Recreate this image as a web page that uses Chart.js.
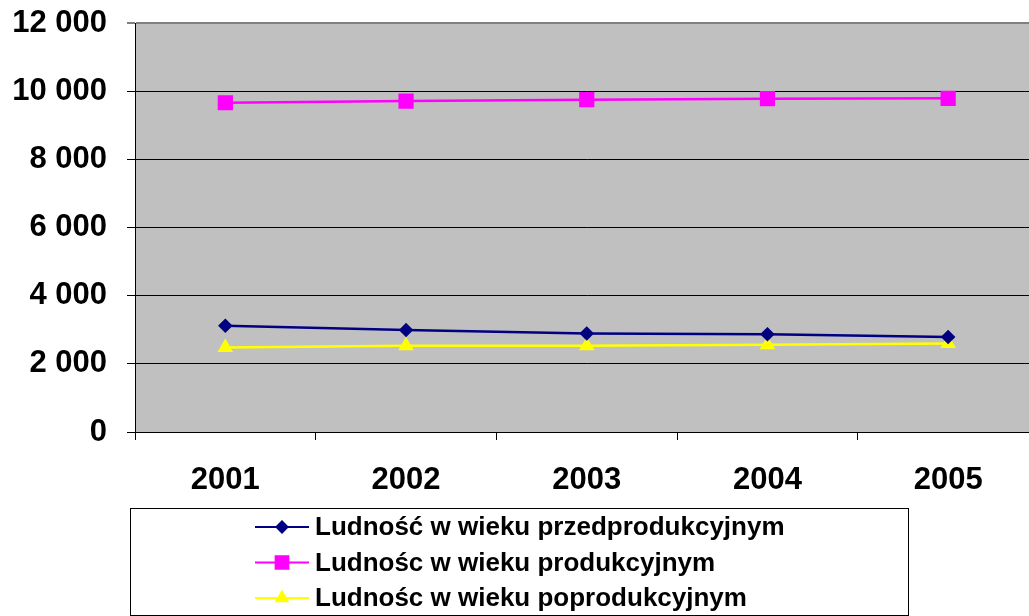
<!DOCTYPE html>
<html>
<head>
<meta charset="utf-8">
<script src="https://cdn.jsdelivr.net/npm/chart.js@4/dist/chart.umd.min.js"></script>
<style>
    html, body { margin: 0; padding: 0; background: #fff; overflow: hidden; }
    #wrap { width: 1050px; height: 616px; }
</style>
</head>
<body>
<div id="wrap"><canvas id="popChart" width="1050" height="616"></canvas></div>
<script>
const years = ["2001", "2002", "2003", "2004", "2005"];
const przedprodukcyjny = [3120, 2990, 2890, 2870, 2790];
const produkcyjny = [9660, 9710, 9750, 9780, 9790];
const poprodukcyjny = [2480, 2530, 2530, 2560, 2600];
const yTicks = [0, 2000, 4000, 6000, 8000, 10000, 12000];

const labelFont = "'Liberation Sans', Arial, sans-serif";

function formatThousands(v) {
    return String(v).replace(/\B(?=(\d{3})+(?!\d))/g, " ");
}

// gray plot area
const plotBackground = {
    id: "plotBackground",
    beforeDraw(chart) {
        const { ctx, chartArea } = chart;
        ctx.save();
        ctx.fillStyle = "#C0C0C0";
        ctx.fillRect(chartArea.left, chartArea.top, chartArea.right - chartArea.left, chartArea.bottom - chartArea.top);
        ctx.restore();
    }
};

// boxed legend below the axis, one series per row
const boxLegend = {
    id: "boxLegend",
    afterDraw(chart) {
        const ctx = chart.ctx;
        const box = { left: 130.5, top: 508.5, right: 908.5, bottom: 615.5 };
        ctx.save();
        ctx.strokeStyle = "#000";
        ctx.lineWidth = 1;
        ctx.strokeRect(box.left, box.top, box.right - box.left, box.bottom - box.top);

        chart.data.datasets.forEach((ds, i) => {
            const y = 527 + i * 35.5;
            ctx.strokeStyle = ds.borderColor;
            ctx.lineWidth = 2;
            ctx.beginPath();
            ctx.moveTo(255, y);
            ctx.lineTo(309, y);
            ctx.stroke();
            ctx.fillStyle = ds.pointBackgroundColor;
            ctx.strokeStyle = ds.pointBorderColor;
            Chart.helpers.drawPoint(ctx, {
                pointStyle: ds.pointStyle,
                radius: ds.pointRadius,
                rotation: 0,
                borderWidth: 1
            }, 282, y);
            ctx.fillStyle = "#000";
            ctx.font = "bold 26px " + labelFont;
            ctx.textAlign = "left";
            ctx.textBaseline = "middle";
            ctx.fillText(ds.label, 315, y + 1);
        });
        ctx.restore();
    }
};

const ctx = document.getElementById("popChart").getContext("2d");

new Chart(ctx, {
    type: "line",
    data: {
        labels: years,
        datasets: [{
            label: "Ludność w wieku przedprodukcyjnym",
            data: przedprodukcyjny,
            borderColor: "#000080",
            borderWidth: 2.5,
            pointStyle: "rectRot",
            pointRadius: 5.5,
            pointBackgroundColor: "#000080",
            pointBorderColor: "#000080",
            tension: 0
        }, {
            label: "Ludnośc w wieku produkcyjnym",
            data: produkcyjny,
            borderColor: "#FF00FF",
            borderWidth: 2.5,
            pointStyle: "rect",
            pointRadius: 9,
            pointBackgroundColor: "#FF00FF",
            pointBorderColor: "#FF00FF",
            tension: 0
        }, {
            label: "Ludnośc w wieku poprodukcyjnym",
            data: poprodukcyjny,
            borderColor: "#FFFF00",
            borderWidth: 2.5,
            pointStyle: "triangle",
            pointRadius: 6.5,
            pointBackgroundColor: "#FFFF00",
            pointBorderColor: "#FFFF00",
            tension: 0
        }]
    },
    options: {
        responsive: false,
        animation: false,
        layout: {
            padding: { top: 23, left: 0, right: 2, bottom: 0 }
        },
        plugins: {
            legend: { display: false },
            tooltip: { enabled: false }
        },
        scales: {
            x: {
                offset: true,
                afterFit: (scale) => {
                    scale.height = 184;
                    scale.paddingLeft = 0;
                    scale.paddingRight = 0;
                },
                grid: {
                    offset: true,
                    drawOnChartArea: false,
                    color: "#000",
                    tickLength: 8
                },
                border: { color: "#000", width: 1 },
                ticks: {
                    color: "#000",
                    padding: 22,
                    font: { family: labelFont, size: 31, weight: "bold" }
                }
            },
            y: {
                min: 0,
                max: 12000,
                afterFit: (scale) => {
                    scale.width = 135;
                    scale.paddingTop = 0;
                    scale.paddingBottom = 0;
                },
                afterBuildTicks: (scale) => {
                    scale.ticks = yTicks.map(v => ({ value: v }));
                },
                grid: {
                    color: (c) => c.tick && c.tick.value === 12000 ? "#808080" : "#000",
                    lineWidth: (c) => c.tick && c.tick.value === 12000 ? 2 : 1,
                    tickLength: 8
                },
                border: { color: "#000", width: 1 },
                ticks: {
                    color: "#000",
                    padding: 20,
                    font: { family: labelFont, size: 31, weight: "bold" },
                    callback: (v) => formatThousands(v)
                }
            }
        }
    },
    plugins: [plotBackground, boxLegend]
});
</script>
</body>
</html>
